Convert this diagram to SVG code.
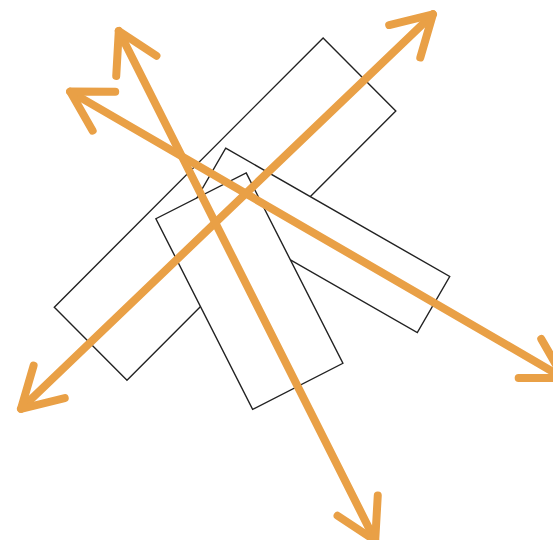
<svg xmlns="http://www.w3.org/2000/svg" width="553" height="540" viewBox="0 0 553 540">
  <style>
    .box { fill: #ffffff; stroke: #222222; stroke-width: 1.4; stroke-linejoin: miter; }
    .arrow { fill: none; stroke: #E9A046; stroke-width: 8; stroke-linecap: round; marker-start: url(#head); marker-end: url(#head); }
  </style>
  <defs>
    <marker id="head" markerUnits="userSpaceOnUse" orient="auto-start-reverse" refX="0" refY="0" markerWidth="100" markerHeight="100" viewBox="-50 -50 100 100" overflow="visible">
      <path d="M-39,-22.5 L0,0 L-39,22.5" fill="none" stroke="#E9A046" stroke-width="8" stroke-linecap="round" stroke-linejoin="round"/>
    </marker>
  </defs>
  <rect x="0" y="0" width="553" height="540" fill="#ffffff"/>
  <g id="rect-diagonal">
    <polygon class="box" points="54.3,307.2 323.1,37.9 395.8,110.9 127,380.2"/>
  </g>
  <g id="rect-right">
    <polygon class="box" points="225.7,148.1 449.7,276.5 417.3,332.6 193.3,204.2"/>
  </g>
  <g id="rect-center">
    <polygon class="box" points="246.2,172.9 342.9,363.3 252.6,409.4 155.9,218.7"/>
  </g>
  <g id="connectors">
    <line class="arrow" x1="21" y1="408.8" x2="432.9" y2="14.3"/>
    <line class="arrow" x1="70.2" y1="91.6" x2="563.7" y2="378"/>
    <line class="arrow" x1="118.8" y1="31" x2="375.2" y2="540.5"/>
  </g>
</svg>
